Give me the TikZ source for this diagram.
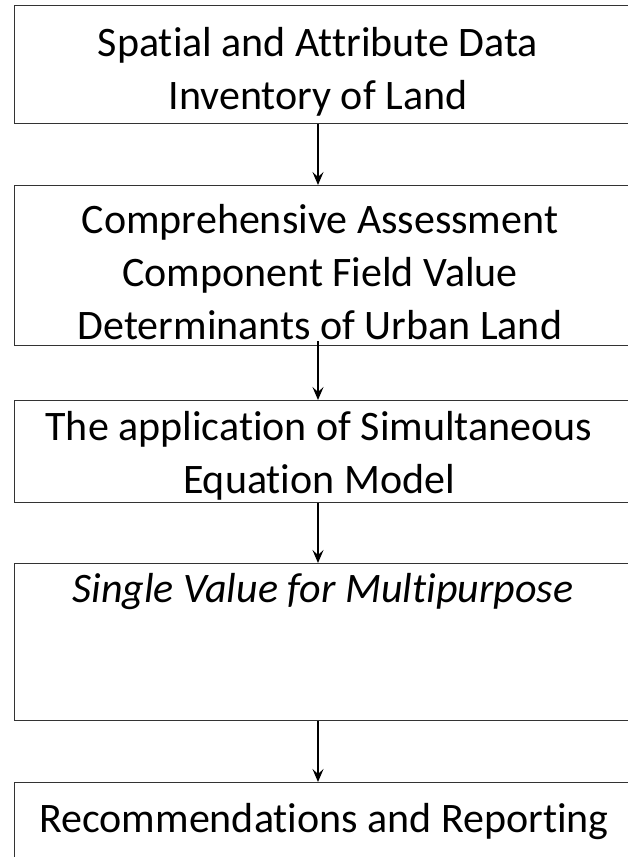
\documentclass[tikz,border=0pt]{standalone}
\usepackage{fontspec}
\setmainfont[Ligatures=NoCommon]{Carlito}
\usetikzlibrary{arrows.meta}
\begin{document}
\begin{tikzpicture}[x=1pt,y=-1pt,
  boxnode/.style={draw=black!80, line width=1.3pt, rectangle, anchor=north west, inner sep=0pt},
  txt/.style={font=\fontsize{42}{53}\selectfont, align=center, inner sep=0pt},
  conn/.style={line width=1.3pt, -{Stealth[length=13pt,width=11pt,inset=5pt]}}]
\useasboundingbox (0,0) rectangle (628,857);
\begin{scope}
\clip (0,0) rectangle (628,857);
\node[boxnode, minimum width=620pt, minimum height=118pt] (b1) at (14,5) {};
\node[boxnode, minimum width=620pt, minimum height=160pt] (b2) at (14,185) {};
\node[boxnode, minimum width=620pt, minimum height=102pt] (b3) at (14,400) {};
\node[boxnode, minimum width=620pt, minimum height=157pt] (b4) at (14,563) {};
\node[boxnode, minimum width=620pt, minimum height=110pt] (b5) at (14,782) {};
\end{scope}
\coordinate (ax) at (318,0);
\node[txt] (t1) at (318,72) {Spatial and Attribute Data\\Inventory of Land};
\node[txt] (t2) at (320,272) {Comprehensive Assessment\\Component Field Value\\Determinants of Urban Land};
\node[txt] (t3) at (319,456) {The application of Simultaneous\\Equation Model};
\node[txt, font=\fontsize{42}{53}\selectfont\itshape] (t4) at (323,592) {Single Value for Multipurpose};
\node[txt] (t5) at (324,822) {Recommendations and Reporting};
\draw[conn] (b1.south -| ax) -- (b2.north -| ax);
\draw[conn] ([yshift=5pt]b2.south -| ax) -- (b3.north -| ax);
\draw[conn] (b3.south -| ax) -- (b4.north -| ax);
\draw[conn] (b4.south -| ax) -- (b5.north -| ax);
\end{tikzpicture}
\end{document}
